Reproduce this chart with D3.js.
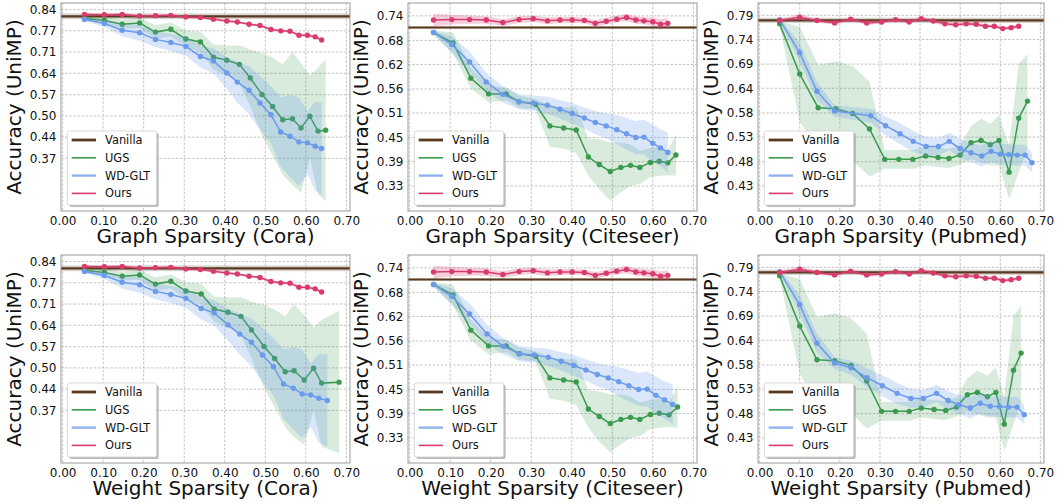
<!DOCTYPE html>
<html>
<head>
<meta charset="utf-8">
<script src="https://cdn.jsdelivr.net/npm/d3@7"></script>
<style>
  body { margin: 0; background: #fff; }
  svg { display: block; font-family: "DejaVu Sans", sans-serif; }
</style>
</head>
<body>
<div id="chart"></div>
<script>
// ---- data ----
const sparsityTicks = [0, 0.1, 0.2, 0.3, 0.4, 0.5, 0.6, 0.7];

// Cora
const coraTicks = [0.37, 0.437, 0.504, 0.571, 0.639, 0.706, 0.773, 0.84];
const coraVanilla = 0.819, coraVanillaStd = 0.009;
const coraOursY = [0.825,0.824,0.825,0.820,0.821,0.822,0.817,0.815,0.810,0.804,0.801,0.794,0.790,0.777,0.773,0.772,0.759,0.759,0.754,0.744];
const coraOursStd = [0.004,0.004,0.004,0.004,0.004,0.004,0.004,0.004,0.004,0.004,0.004,0.004,0.004,0.004,0.004,0.004,0.005,0.005,0.005,0.005];
const coraUgsY = [0.812,0.806,0.794,0.798,0.769,0.778,0.747,0.738,0.690,0.680,0.667,0.624,0.572,0.534,0.492,0.495,0.466,0.503,0.456,0.459];
const coraUgsStd = [0.006,0.01,0.014,0.016,0.022,0.022,0.027,0.032,0.04,0.047,0.06,0.09,0.13,0.155,0.175,0.21,0.205,0.13,0.2,0.225];
const coraWdY = [0.809,0.796,0.775,0.767,0.746,0.736,0.724,0.692,0.678,0.640,0.611,0.585,0.545,0.508,0.453,0.440,0.422,0.419,0.408,0.401];
const coraWdStd = [0.005,0.011,0.02,0.025,0.025,0.027,0.03,0.035,0.04,0.05,0.065,0.075,0.085,0.09,0.11,0.13,0.14,0.10,0.14,0.145];
const coraGraphOursX = [0.054,0.103,0.147,0.190,0.229,0.267,0.304,0.340,0.372,0.405,0.431,0.460,0.487,0.514,0.538,0.561,0.583,0.604,0.623,0.639];
const coraGraphUgsX = [0.054,0.103,0.147,0.190,0.229,0.267,0.304,0.340,0.372,0.405,0.436,0.463,0.492,0.518,0.543,0.567,0.588,0.610,0.630,0.649];
const coraGraphWdX = [0.054,0.103,0.147,0.190,0.229,0.267,0.304,0.340,0.372,0.405,0.431,0.460,0.487,0.514,0.538,0.561,0.583,0.604,0.623,0.639];
const coraWeightUgsX = [0.054,0.103,0.147,0.190,0.229,0.267,0.304,0.342,0.374,0.408,0.440,0.466,0.497,0.523,0.549,0.571,0.596,0.619,0.639,0.682];
const coraWeightWdX = [0.054,0.103,0.147,0.190,0.229,0.267,0.304,0.342,0.374,0.408,0.437,0.466,0.493,0.520,0.545,0.569,0.591,0.612,0.632,0.653];

// Citeseer
const citeTicks = [0.33, 0.389, 0.447, 0.506, 0.564, 0.623, 0.681, 0.74];
const citeVanilla = 0.712, citeVanillaStd = 0.003;
const citeOursY = [0.730,0.731,0.731,0.730,0.724,0.731,0.733,0.728,0.730,0.730,0.729,0.722,0.727,0.732,0.736,0.730,0.728,0.726,0.720,0.722];
const citeOursStd = [0.015,0.012,0.01,0.009,0.008,0.008,0.008,0.008,0.007,0.007,0.007,0.008,0.008,0.008,0.009,0.009,0.009,0.01,0.012,0.012];
const citeUgsY = [0.700,0.675,0.590,0.552,0.552,0.533,0.527,0.475,0.470,0.465,0.400,0.382,0.365,0.375,0.380,0.375,0.387,0.390,0.386,0.405];
const citeUgsStd = [0.005,0.025,0.025,0.02,0.015,0.015,0.012,0.05,0.05,0.055,0.045,0.06,0.07,0.06,0.05,0.04,0.035,0.035,0.03,0.05];
const citeWdY = [0.700,0.671,0.629,0.581,0.551,0.533,0.530,0.525,0.515,0.505,0.494,0.483,0.475,0.466,0.456,0.447,0.448,0.433,0.422,0.411];
const citeWdStd = [0.005,0.02,0.025,0.022,0.02,0.018,0.018,0.02,0.022,0.025,0.025,0.028,0.03,0.035,0.038,0.04,0.042,0.045,0.045,0.048];
const citeGraphOursX = [0.059,0.104,0.148,0.189,0.230,0.270,0.305,0.340,0.371,0.401,0.431,0.458,0.485,0.511,0.535,0.558,0.578,0.600,0.619,0.637];
const citeGraphUgsX = [0.059,0.107,0.151,0.195,0.238,0.270,0.311,0.346,0.380,0.411,0.441,0.468,0.495,0.521,0.545,0.568,0.594,0.616,0.637,0.657];
const citeGraphWdX = [0.059,0.104,0.148,0.189,0.230,0.270,0.305,0.340,0.371,0.401,0.431,0.458,0.485,0.511,0.535,0.558,0.578,0.600,0.619,0.637];
const citeWeightUgsX = [0.059,0.107,0.151,0.195,0.238,0.270,0.311,0.346,0.380,0.411,0.441,0.468,0.495,0.521,0.545,0.568,0.594,0.616,0.640,0.661];
const citeWeightWdX = [0.059,0.104,0.148,0.191,0.231,0.272,0.307,0.342,0.374,0.405,0.435,0.463,0.490,0.516,0.541,0.565,0.586,0.608,0.629,0.649];

// Pubmed
const pubTicks = [0.43, 0.481, 0.533, 0.584, 0.636, 0.687, 0.739, 0.79];
const pubVanilla = 0.7795, pubVanillaStd = 0.0055;
const pubOursY = [0.779,0.786,0.779,0.774,0.782,0.774,0.776,0.781,0.776,0.783,0.778,0.772,0.770,0.772,0.771,0.767,0.767,0.762,0.764,0.767];
const pubOursStd = [0.004,0.006,0.004,0.004,0.004,0.004,0.004,0.004,0.004,0.004,0.004,0.004,0.004,0.004,0.004,0.004,0.004,0.004,0.004,0.004];
const pubUgsY = [0.772,0.666,0.595,0.593,0.583,0.550,0.486,0.486,0.486,0.493,0.490,0.488,0.495,0.521,0.526,0.517,0.526,0.459,0.573,0.609];
const pubUgsStd = [0.005,0.1,0.09,0.1,0.1,0.1,0.02,0.02,0.02,0.02,0.02,0.02,0.02,0.035,0.046,0.044,0.053,0.056,0.115,0.1];
const pubWdY = [0.781,0.711,0.630,0.588,0.578,0.557,0.540,0.524,0.513,0.513,0.524,0.509,0.500,0.493,0.503,0.497,0.496,0.495,0.495,0.479];
const pubWdStd = [0.004,0.02,0.02,0.012,0.015,0.02,0.022,0.022,0.02,0.018,0.018,0.02,0.02,0.022,0.022,0.022,0.022,0.022,0.022,0.02];
const pubGraphOursX = [0.05,0.10,0.143,0.187,0.227,0.267,0.304,0.339,0.373,0.403,0.433,0.462,0.489,0.515,0.54,0.563,0.585,0.606,0.627,0.646];
const pubGraphUgsX = [0.05,0.10,0.146,0.19,0.232,0.274,0.312,0.347,0.382,0.414,0.445,0.472,0.5,0.527,0.552,0.575,0.597,0.622,0.646,0.668];
const pubGraphWdX = [0.05,0.10,0.143,0.187,0.277,0.314,0.35,0.383,0.415,0.446,0.473,0.5,0.527,0.554,0.577,0.6,0.621,0.642,0.662,0.679];
const pubWeightUgsX = [0.05,0.10,0.143,0.187,0.228,0.267,0.304,0.339,0.373,0.403,0.435,0.464,0.491,0.518,0.543,0.568,0.589,0.61,0.633,0.652];
const pubWeightWdX = [0.05,0.10,0.143,0.187,0.228,0.268,0.306,0.343,0.377,0.408,0.441,0.47,0.497,0.525,0.55,0.575,0.598,0.62,0.642,0.66];

const methods = ["Vanilla", "UGS", "WD-GLT", "Ours"];
const colors = { Vanilla: "#5a3a1f", UGS: "#3a9a4e", "WD-GLT": "#6b9bea", Ours: "#d93b6d" };

// ---- layout ----
const W = 1058, H = 504;
const colLeft = [61, 408, 758], colRight = [350, 697, 1044];
const rowTop = [3, 255], rowBottom = [211, 463];

const datasets = {
  Cora: { ticks: coraTicks, domain: [0.2035, 0.861], vanilla: coraVanilla, vStd: coraVanillaStd,
          ours: [coraOursY, coraOursStd], ugs: [coraUgsY, coraUgsStd], wd: [coraWdY, coraWdStd] },
  Citeseer: { ticks: citeTicks, domain: [0.27, 0.771], vanilla: citeVanilla, vStd: citeVanillaStd,
          ours: [citeOursY, citeOursStd], ugs: [citeUgsY, citeUgsStd], wd: [citeWdY, citeWdStd] },
  Pubmed: { ticks: pubTicks, domain: [0.377, 0.816], vanilla: pubVanilla, vStd: pubVanillaStd,
          ours: [pubOursY, pubOursStd], ugs: [pubUgsY, pubUgsStd], wd: [pubWdY, pubWdStd] }
};

const panels = [
  { row: 0, col: 0, ds: "Cora", kind: "Graph", oursX: coraGraphOursX, ugsX: coraGraphUgsX, wdX: coraGraphWdX },
  { row: 0, col: 1, ds: "Citeseer", kind: "Graph", oursX: citeGraphOursX, ugsX: citeGraphUgsX, wdX: citeGraphWdX },
  { row: 0, col: 2, ds: "Pubmed", kind: "Graph", oursX: pubGraphOursX, ugsX: pubGraphUgsX, wdX: pubGraphWdX },
  { row: 1, col: 0, ds: "Cora", kind: "Weight", oursX: coraGraphOursX, ugsX: coraWeightUgsX, wdX: coraWeightWdX },
  { row: 1, col: 1, ds: "Citeseer", kind: "Weight", oursX: citeGraphOursX, ugsX: citeWeightUgsX, wdX: citeWeightWdX },
  { row: 1, col: 2, ds: "Pubmed", kind: "Weight", oursX: pubGraphOursX, ugsX: pubWeightUgsX, wdX: pubWeightWdX }
];

const svg = d3.select("#chart").append("svg")
  .attr("width", W).attr("height", H).attr("viewBox", `0 0 ${W} ${H}`);

panels.forEach((p, i) => {
  const d = datasets[p.ds];
  const L = colLeft[p.col], R = colRight[p.col], T = rowTop[p.row], B = rowBottom[p.row];

  const x = d3.scaleLinear().domain([-0.004, 0.709]).range([L, R]);
  const y = d3.scaleLinear().domain(d.domain).range([B, T]);

  const clipId = "clip" + i;
  svg.append("clipPath").attr("id", clipId)
    .append("rect").attr("x", L).attr("y", T).attr("width", R - L).attr("height", B - T);

  const g = svg.append("g");
  const plot = g.append("g").attr("clip-path", `url(#${clipId})`);

  // grid
  plot.selectAll(".gx").data(sparsityTicks).join("line")
    .attr("x1", v => x(v)).attr("x2", v => x(v)).attr("y1", T).attr("y2", B)
    .attr("stroke", "#b4b4b4").attr("stroke-width", 0.8).attr("stroke-dasharray", "2.5,1.6");
  plot.selectAll(".gy").data(d.ticks).join("line")
    .attr("x1", L).attr("x2", R).attr("y1", v => y(v)).attr("y2", v => y(v))
    .attr("stroke", "#b4b4b4").attr("stroke-width", 0.8).attr("stroke-dasharray", "2.5,1.6");

  // vanilla baseline
  plot.append("rect")
    .attr("x", L).attr("width", R - L)
    .attr("y", y(d.vanilla + d.vStd)).attr("height", y(d.vanilla - d.vStd) - y(d.vanilla + d.vStd))
    .attr("fill", "#7a6a5c").attr("opacity", 0.3);
  plot.append("line")
    .attr("x1", L).attr("x2", R).attr("y1", y(d.vanilla)).attr("y2", y(d.vanilla))
    .attr("stroke", colors.Vanilla).attr("stroke-width", 2.2);

  const series = [
    { name: "UGS", xs: p.ugsX, ys: d.ugs[0], sd: d.ugs[1], alpha: 0.2 },
    { name: "WD-GLT", xs: p.wdX, ys: d.wd[0], sd: d.wd[1], alpha: 0.25 },
    { name: "Ours", xs: p.oursX, ys: d.ours[0], sd: d.ours[1], alpha: 0.25 }
  ];

  series.forEach(s => {
    const pts = s.xs.map((xv, k) => ({ x: xv, y: s.ys[k], sd: s.sd[k] }));
    const area = d3.area().x(q => x(q.x)).y0(q => y(q.y - q.sd)).y1(q => y(q.y + q.sd));
    const line = d3.line().x(q => x(q.x)).y(q => y(q.y));
    plot.append("path").datum(pts).attr("d", area)
      .attr("fill", colors[s.name]).attr("fill-opacity", s.alpha).attr("stroke", "none");
    plot.append("path").datum(pts).attr("d", line)
      .attr("fill", "none").attr("stroke", colors[s.name]).attr("stroke-width", 1.5);
    plot.selectAll(null).data(pts).join("circle")
      .attr("cx", q => x(q.x)).attr("cy", q => y(q.y)).attr("r", 2.7)
      .attr("fill", colors[s.name]);
  });

  // frame
  g.append("rect").attr("x", L).attr("y", T).attr("width", R - L).attr("height", B - T)
    .attr("fill", "none").attr("stroke", "#9a9a9a").attr("stroke-width", 1);

  // axes
  const ax = g.append("g").attr("transform", `translate(0,${B})`)
    .call(d3.axisBottom(x).tickValues(sparsityTicks).tickFormat(d3.format(".2f")).tickSize(0).tickPadding(5));
  const ay = g.append("g").attr("transform", `translate(${L},0)`)
    .call(d3.axisLeft(y).tickValues(d.ticks).tickFormat(d3.format(".2f")).tickSize(0).tickPadding(4.5));
  [ax, ay].forEach(a => {
    a.select(".domain").remove();
    a.attr("font-family", null).attr("font-size", null);
    a.selectAll("text").attr("fill", "#111").style("font-size", "12px");
  });

  g.append("text")
    .attr("x", (L + R) / 2).attr("y", B + 31.5)
    .attr("text-anchor", "middle").attr("fill", "#111").style("font-size", "20px")
    .text(`${p.kind} Sparsity (${p.ds})`);

  g.append("text")
    .attr("transform", `translate(${L - 40},${(T + B) / 2}) rotate(-90)`)
    .attr("text-anchor", "middle").attr("fill", "#111").style("font-size", "20px")
    .text("Accuracy (UniMP)");

  // legend
  const lx = L + 6.3, lw = 89.4, lh = 74, ly = B - 6 - lh;
  const leg = g.append("g");
  leg.append("rect").attr("x", lx + 2).attr("y", ly + 2).attr("width", lw).attr("height", lh)
    .attr("rx", 2).attr("fill", "#777").attr("opacity", 0.5);
  leg.append("rect").attr("x", lx).attr("y", ly).attr("width", lw).attr("height", lh)
    .attr("rx", 2).attr("fill", "#fff").attr("stroke", "#cfcfcf").attr("stroke-width", 0.8);
  methods.forEach((m, k) => {
    const cy = ly + 9 + k * 17.8;
    leg.append("line").attr("x1", lx + 4.4).attr("x2", lx + 28.7).attr("y1", cy).attr("y2", cy)
      .attr("stroke", colors[m])
      .attr("stroke-width", m === "Vanilla" ? 2.8 : (m === "WD-GLT" ? 2.4 : 1.6))
      .attr("stroke-opacity", m === "WD-GLT" ? 0.75 : 1);
    leg.append("text").attr("x", lx + 37.7).attr("y", cy + 4)
      .attr("fill", "#111").style("font-size", "11.4px").text(m);
  });
});
</script>
</body>
</html>
